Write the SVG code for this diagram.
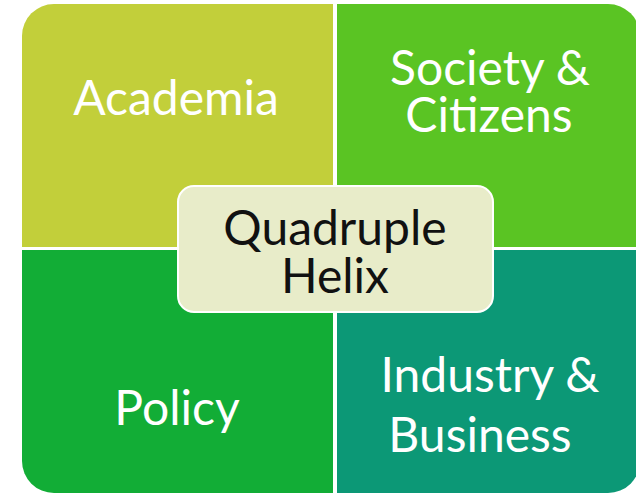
<svg xmlns="http://www.w3.org/2000/svg" width="636" height="495" viewBox="0 0 636 495">
<style>
.q{font-family:Lato,"Open Sans","Liberation Sans",sans-serif;font-size:48px;fill:#ffffff;text-anchor:middle}
.c{font-family:Lato,"Open Sans","Liberation Sans",sans-serif;font-size:48px;fill:#111111;text-anchor:middle}
</style>
<defs>
<clipPath id="outer"><rect x="22" y="4" width="618" height="489" rx="32" ry="32"/></clipPath>
</defs>
<rect width="636" height="495" fill="#ffffff"/>
<g clip-path="url(#outer)">
<g id="academia"><rect x="22" y="4" width="311" height="243" fill="#c2cf3a"/><text class="q" x="176" y="115">Academia</text></g>
<g id="society"><rect x="337" y="4" width="303" height="243" fill="#5ac423"/><text class="q" x="490" y="85">Society &amp;</text><text class="q" x="489" y="132">Citizens</text></g>
<g id="policy"><rect x="22" y="250" width="311" height="243" fill="#12ad36"/><text class="q" x="177" y="425">Policy</text></g>
<g id="industry"><rect x="337" y="250" width="303" height="243" fill="#0c9876"/><text class="q" x="490" y="392">Industry &amp;</text><text class="q" x="480" y="452">Business</text></g>
</g>
<g id="connectors"></g>
<g id="center"><rect x="178" y="186" width="315" height="126" rx="16" ry="16" fill="#e8ecc9" stroke="#ffffff" stroke-width="2"/><text class="c" x="335" y="245">Quadruple</text><text class="c" x="335" y="293">Helix</text></g>
</svg>
